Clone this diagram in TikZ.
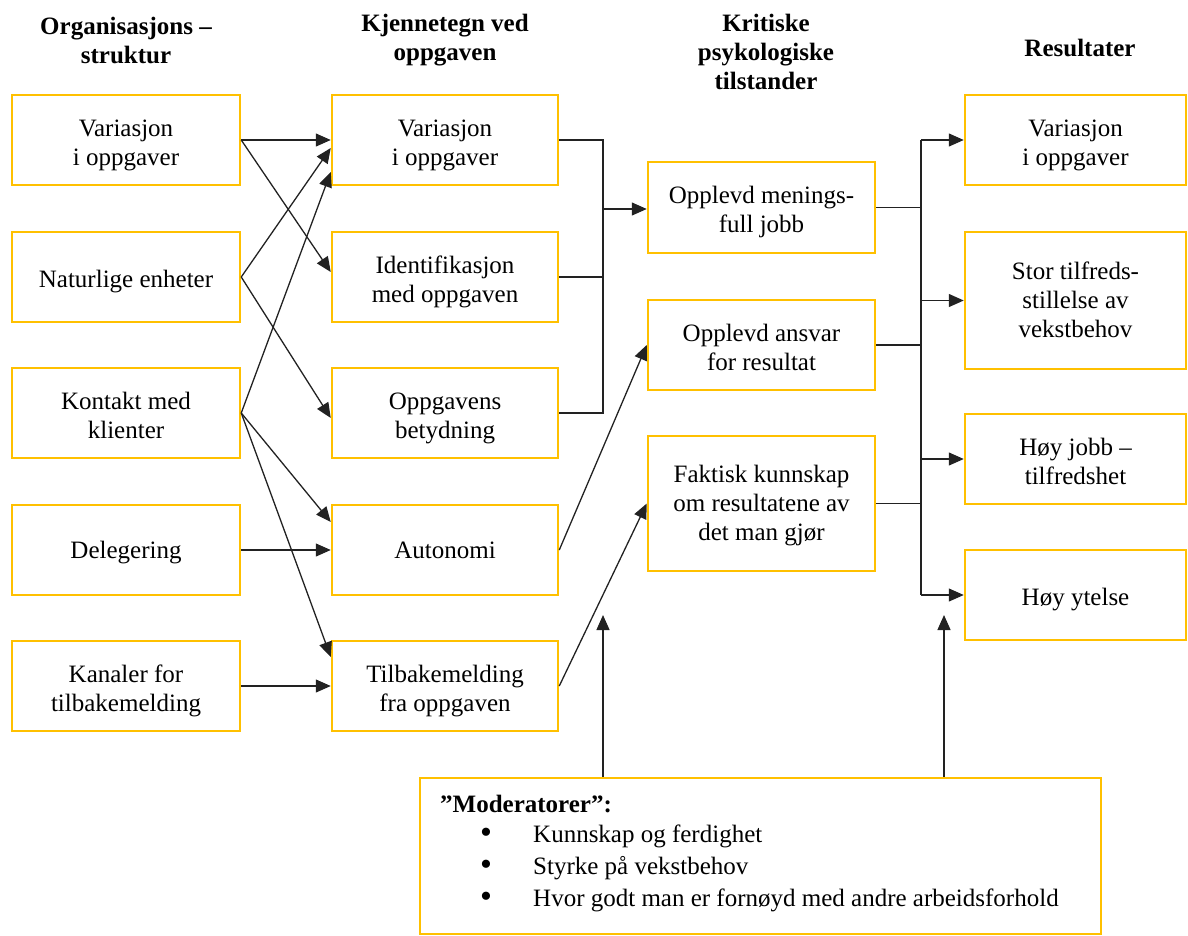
\documentclass[tikz,border=0pt]{standalone}
\usepackage{fontspec}
\setmainfont{Liberation Serif}
\usetikzlibrary{arrows.meta,calc}
\definecolor{boxgold}{HTML}{FFC000}
\definecolor{linegray}{HTML}{222222}
\newcommand{\bigbul}{\raisebox{-1pt}{\fontsize{34}{29}\selectfont\textbullet}}
\newcommand{\bx}[2][-5pt]{\raisebox{#1}[\height][\depth]{\begin{tabular}{@{}c@{}}#2\end{tabular}}}
\begin{document}
\begin{tikzpicture}[x=1pt,y=-1pt,
  txt/.style={font=\fontsize{25}{29}\selectfont},
  head/.style={txt,font=\fontsize{25}{29}\selectfont\bfseries,align=center,inner sep=0pt},
  box/.style={draw=boxgold,line width=2.5pt,inner sep=0pt,txt},
  arr/.style={draw=linegray,line width=1.3pt,-{Triangle[length=15pt,width=13pt]}},
  ln/.style={draw=linegray,line width=1.3pt}]
\useasboundingbox (0,0) rectangle (1188,935);
% headers
\node[head] (h1) at (126,40) {Organisasjons –\\struktur};
\node[head] (h2) at (445,40) {Kjennetegn ved\\oppgaven};
\node[head] (h3) at (766,52) {Kritiske\\psykologiske\\tilstander};
\node[head] (h4) at (1080,48) {Resultater};
% column 1
\tikzset{c1/.style={box,minimum width=228pt,minimum height=90pt}}
\node[c1] (c1a) at (126,140) {\bx{Variasjon\\i oppgaver}};
\node[c1] (c1b) at (126,277) {\bx{Naturlige enheter}};
\node[c1] (c1c) at (126,413) {\bx{Kontakt med\\klienter}};
\node[c1] (c1d) at (126,550) {\bx[-3pt]{Delegering}};
\node[c1] (c1e) at (126,686) {\bx{Kanaler for\\tilbakemelding}};
% column 2
\tikzset{c2/.style={box,minimum width=226pt,minimum height=90pt}}
\node[c2] (c2a) at (445,140) {\bx{Variasjon\\i oppgaver}};
\node[c2] (c2b) at (445,277) {\bx{Identifikasjon\\med oppgaven}};
\node[c2] (c2c) at (445,413) {\bx{Oppgavens\\betydning}};
\node[c2] (c2d) at (445,550) {\bx[-3pt]{Autonomi}};
\node[c2] (c2e) at (445,686) {\bx{Tilbakemelding\\fra oppgaven}};
% column 3
\tikzset{c3/.style={box,minimum width=227pt}}
\node[c3,minimum height=91pt] (c3a) at (761.5,207.5) {\bx{Opplevd menings-\\full jobb}};
\node[c3,minimum height=90pt] (c3b) at (761.5,345) {\bx{Opplevd ansvar\\for resultat}};
\node[c3,minimum height=135pt] (c3c) at (761.5,503.5) {\bx[-2pt]{Faktisk kunnskap\\om resultatene av\\det man gjør}};
% column 4
\tikzset{c4/.style={box,minimum width=221pt}}
\node[c4,minimum height=90pt] (c4a) at (1075.5,140) {\bx{Variasjon\\i oppgaver}};
\node[c4,minimum height=137pt] (c4b) at (1075.5,300.5) {\bx[-2pt]{Stor tilfreds-\\stillelse av\\vekstbehov}};
\node[c4,minimum height=90pt] (c4c) at (1075.5,459) {\bx{Høy jobb –\\tilfredshet}};
\node[c4,minimum height=90pt] (c4d) at (1075.5,595) {\bx{Høy ytelse}};
% moderators
\node[draw=boxgold,line width=2.5pt,minimum width=681pt,minimum height=156pt] (mod) at (760.5,856) {};
\node[txt,anchor=north west,inner sep=0pt,align=left] (modtxt) at (440,792) {%
  \begin{tabular}{@{}p{40pt}@{}p{53pt}@{}l@{}}
  \multicolumn{3}{@{}l@{}}{\textbf{”Moderatorer”:}}\\[1pt]
  & \bigbul & Kunnskap og ferdighet\\[3pt]
  & \bigbul & Styrke på vekstbehov\\[3pt]
  & \bigbul & Hvor godt man er fornøyd med andre arbeidsforhold
  \end{tabular}};
% arrows col1 -> col2
\draw[arr] (c1a.east) -- (c2a.west);
\draw[arr] (c1a.east) -- ([yshift=5pt]c2b.west);
\draw[arr] (c1b.east) -- ([yshift=-8pt]c2a.west);
\draw[arr] (c1b.east) -- ([yshift=-5pt]c2c.west);
\draw[arr] (c1c.east) -- ([yshift=-32pt]c2a.west);
\draw[arr] (c1c.east) -- ([yshift=28pt]c2d.west);
\draw[arr] (c1c.east) -- ([yshift=29pt]c2e.west);
\draw[arr] (c1d.east) -- (c2d.west);
\draw[arr] (c1e.east) -- (c2e.west);
% bracket col2 -> col3
\coordinate (j1) at (603,209);
\draw[ln] (c2a.east) -- (c2a.east -| j1) -- (c2c.east -| j1) -- (c2c.east);
\draw[ln] (c2b.east) -- (c2b.east -| j1);
\draw[arr] (j1) -- (c3a.west |- j1);
\draw[arr] (c2d.east) -- (c3b.west);
\draw[arr] (c2e.east) -- (c3c.west);
% bracket col3 -> col4
\coordinate (j2) at (921,345);
\draw[ln] (c4a.west -| j2) -- (c4d.west -| j2);
\draw[ln] (c3a.east) -- (c3a.east -| j2);
\draw[ln] (c3b.east) -- (c3b.east -| j2);
\draw[ln] (c3c.east) -- (c3c.east -| j2);
\draw[arr] (c4a.west -| j2) -- (c4a.west);
\draw[arr] (c4b.west -| j2) -- (c4b.west);
\draw[arr] (c4c.west -| j2) -- (c4c.west);
\draw[arr] (c4d.west -| j2) -- (c4d.west);
% moderator arrows
\coordinate (m1) at (603,615);
\coordinate (m2) at (944,615);
\draw[arr] (mod.north -| m1) -- (m1);
\draw[arr] (mod.north -| m2) -- (m2);
\end{tikzpicture}
\end{document}
